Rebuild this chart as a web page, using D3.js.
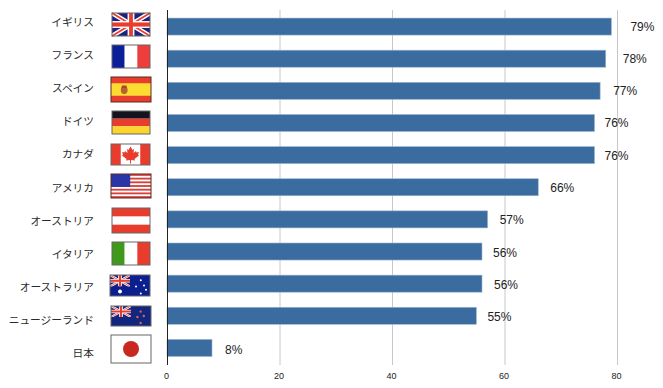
<!DOCTYPE html>
<html><head><meta charset="utf-8">
<script src="https://cdnjs.cloudflare.com/ajax/libs/d3/7.8.5/d3.min.js"></script>
<style>html,body{margin:0;padding:0;background:#fff}svg{display:block}
text{font-family:"Liberation Sans","Noto Sans CJK JP",sans-serif;fill:#222}
.cn{font-family:"Noto Sans CJK JP","Noto Sans",sans-serif;fill:#2a2a2a}</style></head><body>
<div id="c"></div>
<script>
const countries=["イギリス","フランス","スペイン","ドイツ","カナダ","アメリカ","オーストリア","イタリア","オーストラリア","ニュージーランド","日本"];
const flagIds=["uk","fr","es","de","ca","us","at","it","au","nz","jp"];
const values=[79,78,77,76,76,66,57,56,56,55,8];
const tickValues=[0,20,40,60,80];
const W=663,H=388;
const svg=d3.select("#c").append("svg").attr("width",W).attr("height",H);
const x=d3.scaleLinear().domain([0,80]).range([167,617]);
const y=d3.scaleBand().domain(countries).range([10.5,364]).paddingInner(0.47).paddingOuter(0.235);
const labelY=d3.scalePoint().domain(countries).range([22,353]);
const valueY=d3.scalePoint().domain(countries).range([26,349]);
const flagBox=[[112,13,38,23],[112,45,38,23],[111,77,40,25],[112,111,38,23],[111,144,39,21],[111,174,40,24],[112,208,38,25],[112,242,38,23],[110,275,40,21],[111,306,40,20],[111,335,40,28]];
const labelNudge=[7,5,1,-2,-2,0,0,-1,0,-1,1];

svg.append("g").selectAll("line").data(tickValues.slice(1)).join("line")
 .attr("x1",d=>x(d)+.5).attr("x2",d=>x(d)+.5).attr("y1",10).attr("y2",365)
 .attr("stroke","#c8c8c8");
svg.append("g").selectAll("rect").data(values).join("rect")
 .attr("x",x(0)).attr("y",(d,i)=>y(countries[i])).attr("width",d=>x(d)-x(0)).attr("height",y.bandwidth())
 .attr("fill","#3b6c9f").attr("stroke","#9db6d0").attr("stroke-width",.6);
svg.append("line").attr("x1",167.5).attr("x2",167.5).attr("y1",10).attr("y2",365).attr("stroke","#222");
svg.append("g").selectAll("text").data(tickValues).join("text")
 .attr("x",d=>x(d)-.5).attr("y",378.5).attr("text-anchor","middle").attr("font-size",9).text(d=>d);
svg.append("g").selectAll("text").data(values).join("text")
 .attr("x",(d,i)=>x(d)+12+labelNudge[i]).attr("y",(d,i)=>valueY(countries[i])+4.5)
 .attr("font-size",12).text(d=>d+"%");
svg.append("g").selectAll("text").data(countries).join("text").attr("class","cn")
 .attr("x",94).attr("y",d=>labelY(d)+4).attr("text-anchor","end").attr("font-size",10.7).text(d=>d);

const R="#e83c2c",B="#0b1f8f",N="#1a237e",Wh="#fff";
function rect(g,a,b,c,d,f){g.append("rect").attr("x",a).attr("y",b).attr("width",c).attr("height",d).attr("fill",f);}
function star(g,cx,cy,r,f){g.append("circle").attr("cx",cx).attr("cy",cy).attr("r",r).attr("fill",f);}
function jack(g,w,h){
 rect(g,0,0,w,h,N);
 g.append("path").attr("d",`M0 0L${w} ${h}M${w} 0L0 ${h}`).attr("stroke",Wh).attr("stroke-width",h*.2);
 g.append("path").attr("d",`M0 0L${w} ${h}M${w} 0L0 ${h}`).attr("stroke",R).attr("stroke-width",h*.07);
 rect(g,w*.41,0,w*.18,h,Wh);rect(g,0,h*.35,w,h*.3,Wh);
 rect(g,w*.45,0,w*.1,h,R);rect(g,0,h*.41,w,h*.18,R);
}
const painters={
 uk:(g,w,h)=>jack(g,w,h),
 fr:(g,w,h)=>{rect(g,0,0,w/3,h,"#0b1f9a");rect(g,w/3,0,w/3,h,Wh);rect(g,2*w/3,0,w/3,h,"#ee3d3d");},
 es:(g,w,h)=>{rect(g,0,0,w,h,R);rect(g,0,h*.25,w,h*.5,"#fbdc32");
  g.append("ellipse").attr("cx",w*.33).attr("cy",h*.52).attr("rx",w*.085).attr("ry",h*.16).attr("fill","#b8602e");
  rect(g,w*.27,h*.34,w*.12,h*.1,"#a8482a");},
 de:(g,w,h)=>{rect(g,0,0,w,h/3,"#14141e");rect(g,0,h/3,w,h/3,R);rect(g,0,2*h/3,w,h/3,"#fbd52e");},
 ca:(g,w,h)=>{rect(g,0,0,w,h,Wh);rect(g,0,0,w*.25,h,R);rect(g,w*.75,0,w*.25,h,R);
  g.append("path").attr("transform",`translate(${w/2},${h/2}) scale(${h/21})`)
   .attr("d","M0-8L2-4.5L3.5-5.5L3-1.5L5.5-3.5L6-2L8.5-2.5L7.5 0L8.5 1L4 4.5L4.5 6L.5 5.5V9H-.5V5.5L-4.5 6L-4 4.5L-8.5 1L-7.5 0L-8.5-2.5L-6-2L-5.5-3.5L-3-1.5L-3.5-5.5L-2-4.5Z")
   .attr("fill",R);},
 us:(g,w,h)=>{rect(g,0,0,w,h,Wh);for(let i=0;i<7;i++)rect(g,0,i*2*h/13,w,h/13,"#d8413c");rect(g,0,0,w*.48,h*7/13,"#2a35a8");},
 at:(g,w,h)=>{rect(g,0,0,w,h,R);rect(g,0,h/3,w,h/3,Wh);},
 it:(g,w,h)=>{rect(g,0,0,w/3,h,"#3f9a1c");rect(g,w/3,0,w/3,h,Wh);rect(g,2*w/3,0,w/3,h,R);},
 au:(g,w,h)=>{rect(g,0,0,w,h,B);const s=g.append("svg").attr("width",w/2).attr("height",h*.55);jack(s,w/2,h*.55);
  star(g,w*.25,h*.78,2,Wh);[[.77,.25],[.85,.5],[.77,.88],[.65,.55],[.9,.7]].forEach(p=>star(g,w*p[0],h*p[1],1,Wh));},
 nz:(g,w,h)=>{rect(g,0,0,w,h,"#12267e");const s=g.append("svg").attr("width",w/2).attr("height",h*.55);jack(s,w/2,h*.55);
  [[.74,.28],[.66,.55],[.82,.5],[.74,.85]].forEach(p=>star(g,w*p[0],h*p[1],1.2,"#d8605c"));},
 jp:(g,w,h)=>{rect(g,0,0,w,h,Wh);star(g,w/2,h/2,8,"#c8291f");}
};
const flags=svg.append("g");
flagIds.forEach((id,i)=>{
 const [fx,fy,w,h]=flagBox[i];
 const g=flags.append("g").attr("transform",`translate(${fx},${fy})`);
 painters[id](g,w,h);
 g.append("rect").attr("x",0).attr("y",0).attr("width",w).attr("height",h).attr("fill","none")
  .attr("stroke",id==="es"||id==="us"?"#5a2a20":"#666").attr("stroke-width",1);
});
</script></body></html>
